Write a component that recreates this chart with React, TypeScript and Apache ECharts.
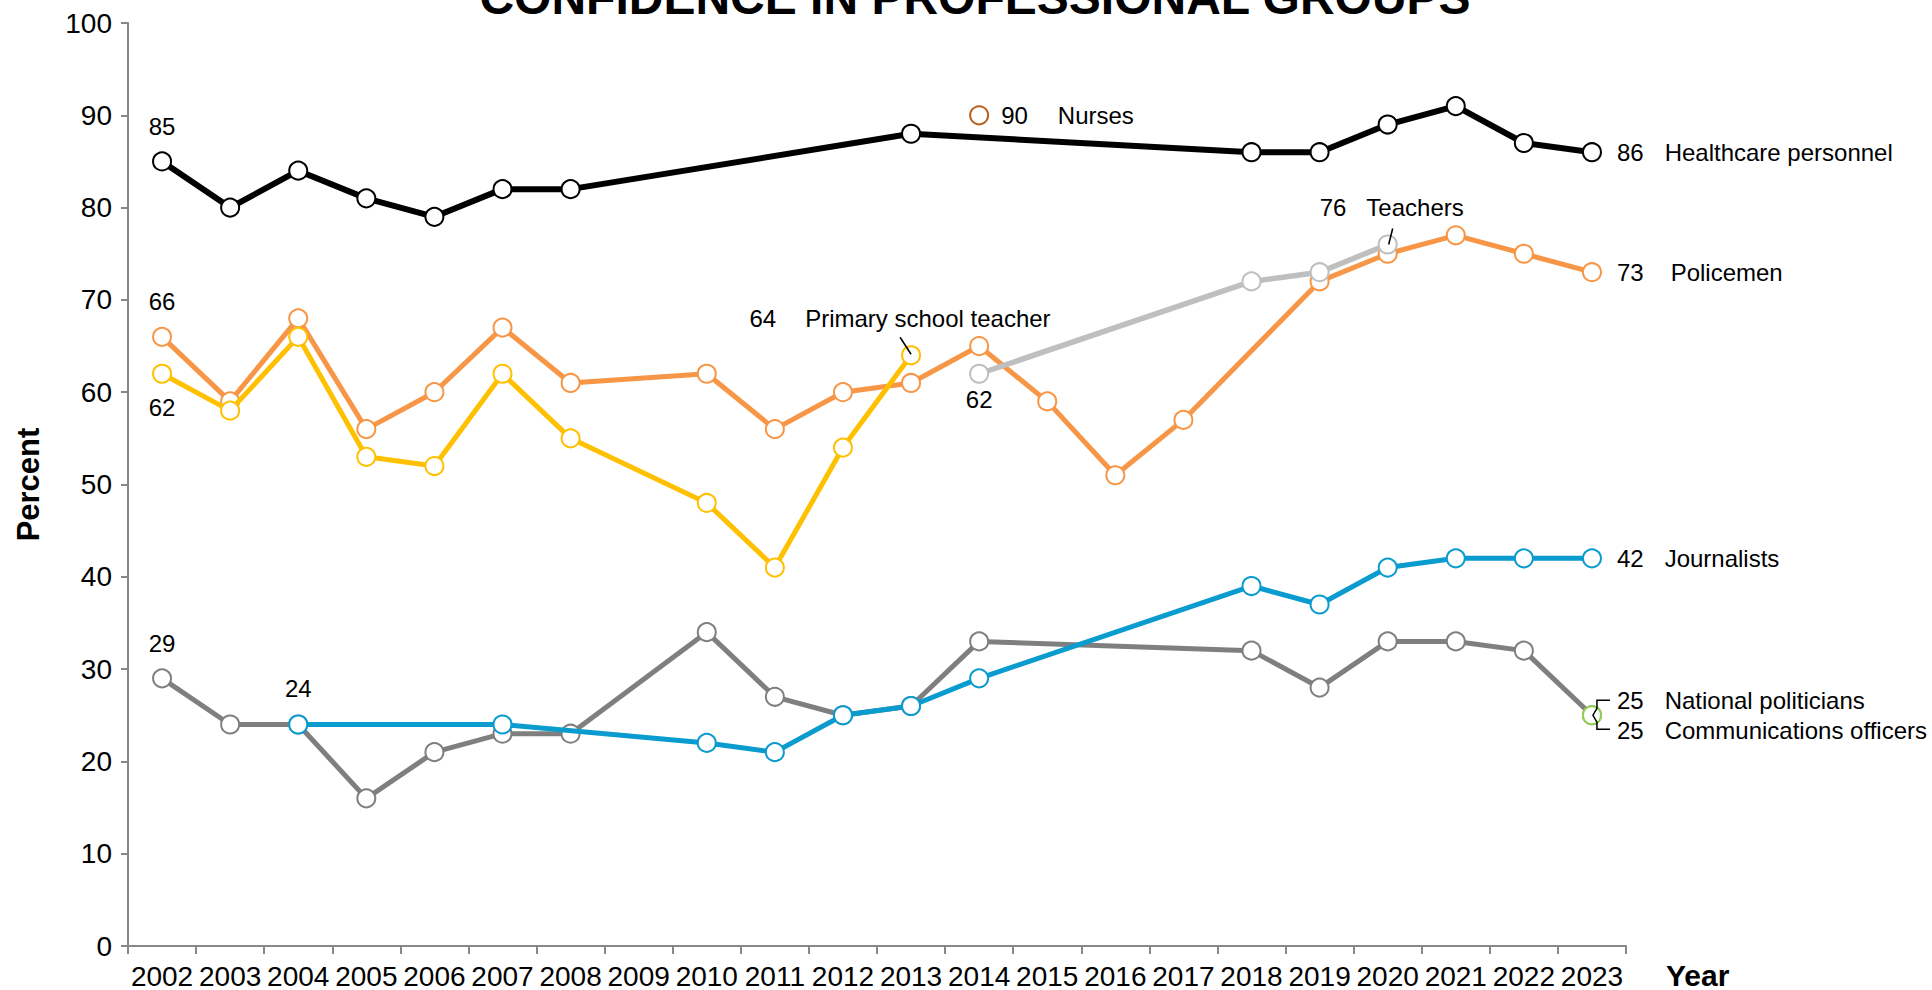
import React, { useEffect, useRef } from "react";
import * as echarts from "echarts";

const years = ["2002","2003","2004","2005","2006","2007","2008","2009","2010","2011","2012","2013","2014","2015","2016","2017","2018","2019","2020","2021","2022","2023"];
const yTicks = [0, 10, 20, 30, 40, 50, 60, 70, 80, 90, 100];

// values aligned with years (null = no survey)
const politicians = [29,24,24,16,21,23,23,null,34,27,25,26,33,null,null,null,32,28,33,33,32,25];
const journalists = [null,null,24,null,null,24,null,null,22,21,25,26,29,null,null,null,39,37,41,42,42,42];
const policemen = [66,59,68,56,60,67,61,null,62,56,60,61,65,59,51,57,null,72,75,77,75,73];
const primaryTeacher = [62,58,66,53,52,62,55,null,48,41,54,64,null,null,null,null,null,null,null,null,null,null];
const teachers = [null,null,null,null,null,null,null,null,null,null,null,null,62,null,null,null,72,73,76,null,null,null];
const healthcare = [85,80,84,81,79,82,82,null,null,null,null,88,null,null,null,null,86,86,89,91,87,86];
const nurses = [null,null,null,null,null,null,null,null,null,null,null,null,90,null,null,null,null,null,null,null,null,null];
const commOfficers = [null,null,null,null,null,null,null,null,null,null,null,null,null,null,null,null,null,null,null,null,null,25];

const FONT = "'Liberation Sans', Arial, sans-serif";

function firstIdx(a: (number | null)[]) { return a.findIndex((v) => v !== null); }
function lastIdx(a: (number | null)[]) { for (let i = a.length - 1; i >= 0; i--) if (a[i] !== null) return i; return -1; }

const rich = (gap: number) => ({
  v: { fontSize: 24, color: "#000", fontFamily: FONT },
  n: { fontSize: 24, color: "#000", fontFamily: FONT, padding: [0, 0, 0, gap] },
});

function build(values: (number | null)[], labels: Record<number, any>) {
  return values.map((v, i) => {
    if (v === null) return null;
    const l = labels[i];
    if (!l) return { value: v };
    return { value: v, label: { show: true, fontSize: 24, color: "#000", fontFamily: FONT, ...l } };
  });
}

function lineSeries(name: string, color: string, width: number, data: any[], z: number) {
  return {
    name,
    type: "line",
    data,
    connectNulls: true,
    symbol: "circle",
    symbolSize: 18,
    z,
    lineStyle: { color, width },
    itemStyle: { color: "#fff", borderColor: color, borderWidth: 2 },
    emphasis: { disabled: true },
  };
}

export default function App() {
  const ref = useRef<HTMLDivElement>(null);
  useEffect(() => {
    if (!ref.current) return;
    const chart = echarts.init(ref.current, null, { renderer: "svg" });
    const topLbl = (d: number) => ({ position: "top", distance: d, formatter: "{c}" });

    const option: any = {
      animation: false,
      textStyle: { fontFamily: FONT },
      grid: { left: 128, right: 306, top: 23, bottom: 44, containLabel: false },
      xAxis: {
        type: "category",
        data: years,
        boundaryGap: true,
        axisLine: { lineStyle: { color: "#888", width: 2 } },
        axisTick: { show: true, length: 8, lineStyle: { color: "#888", width: 2 } },
        axisLabel: { fontSize: 28, color: "#000", margin: 16, fontFamily: FONT, interval: 0 },
        splitLine: { show: false },
      },
      yAxis: {
        type: "value",
        min: yTicks[0],
        max: yTicks[yTicks.length - 1],
        interval: 10,
        name: "Percent",
        nameLocation: "middle",
        nameRotate: 90,
        nameGap: 84,
        nameTextStyle: { fontSize: 31, fontWeight: "bold", color: "#000", fontFamily: FONT },
        axisLine: { show: true, lineStyle: { color: "#888", width: 2 } },
        axisTick: { show: true, length: 7, lineStyle: { color: "#888", width: 2 } },
        axisLabel: { fontSize: 28, color: "#000", margin: 16, fontFamily: FONT },
        splitLine: { show: false },
      },
      series: [
        lineSeries("National politicians", "#7F7F7F", 5, build(politicians, {
          [firstIdx(politicians)]: topLbl(13),
          [lastIdx(politicians)]: { position: "right", distance: 15, offset: [0, -15], formatter: "{v|{c}}{n|National politicians}", rich: rich(21) },
        }), 2),
        lineSeries("Journalists", "#0A9BCF", 5, build(journalists, {
          [firstIdx(journalists)]: topLbl(14),
          [lastIdx(journalists)]: { position: "right", distance: 15, formatter: "{v|{c}}{n|Journalists}", rich: rich(21) },
        }), 3),
        lineSeries("Policemen", "#F79646", 5, build(policemen, {
          [firstIdx(policemen)]: topLbl(13),
          [lastIdx(policemen)]: { position: "right", distance: 15, formatter: "{v|{c}}{n|Policemen}", rich: rich(27) },
        }), 4),
        lineSeries("Primary school teacher", "#FFC000", 5, build(primaryTeacher, {
          [firstIdx(primaryTeacher)]: { position: "bottom", distance: 12, formatter: "{c}" },
          [lastIdx(primaryTeacher)]: { position: "top", distance: 15, offset: [-11, 0], formatter: "{v|{c}}{n|Primary school teacher}", rich: rich(29) },
        }), 5),
        lineSeries("Teachers", "#BFBFBF", 5.5, build(teachers, {
          [firstIdx(teachers)]: { position: "bottom", distance: 4, formatter: "{c}" },
          [lastIdx(teachers)]: { position: "top", distance: 15, offset: [4, 0], formatter: "{v|{c}}{n|Teachers}", rich: rich(20) },
        }), 6),
        lineSeries("Healthcare personnel", "#000000", 6, build(healthcare, {
          [firstIdx(healthcare)]: topLbl(13),
          [lastIdx(healthcare)]: { position: "right", distance: 15, formatter: "{v|{c}}{n|Healthcare personnel}", rich: rich(21) },
        }), 7),
        lineSeries("Nurses", "#B8601E", 2, build(nurses, {
          [firstIdx(nurses)]: { position: "right", distance: 12, formatter: "{v|{c}}{n|Nurses}", rich: rich(30) },
        }), 8),
        lineSeries("Communications officers", "#92D050", 2, build(commOfficers, {
          [lastIdx(commOfficers)]: { position: "right", distance: 15, offset: [0, 15], formatter: "{v|{c}}{n|Communications officers}", rich: rich(21) },
        }), 9),
      ],
    };
    chart.setOption(option);

    // Leader lines computed from the chart's own scales
    const px = (cat: string, v: number) => chart.convertToPixel({ gridIndex: 0 }, [cat, v]) as number[];
    const pi = lastIdx(primaryTeacher);
    const p1 = px(years[pi], primaryTeacher[pi] as number);
    const ti = lastIdx(teachers);
    const p2 = px(years[ti], teachers[ti] as number);
    const ci = lastIdx(commOfficers);
    const p3 = px(years[ci], commOfficers[ci] as number);
    const lineStyle = { stroke: "#000", lineWidth: 1.5, fill: null };

    chart.setOption({
      graphic: [
        {
          type: "text",
          x: 975,
          y: -3,
          style: { text: "CONFIDENCE IN PROFESSIONAL GROUPS", fontSize: 48, fontWeight: "bold", fill: "#000", fontFamily: FONT, align: "center", verticalAlign: "middle" },
        },
        {
          type: "text",
          x: 1666,
          y: 975,
          style: { text: "Year", fontSize: 30, fontWeight: "bold", fill: "#000", fontFamily: FONT, align: "left", verticalAlign: "middle" },
        },
        { type: "line", z: 100, shape: { x1: p1[0] - 11, y1: p1[1] - 18, x2: p1[0], y2: p1[1] - 1 }, style: lineStyle },
        { type: "line", z: 100, shape: { x1: p2[0] + 5, y1: p2[1] - 16, x2: p2[0] + 1, y2: p2[1] }, style: lineStyle },
        {
          type: "polyline",
          z: 100,
          shape: { points: [[p3[0] + 18, p3[1] - 15], [p3[0] + 5, p3[1] - 15], [p3[0] + 5, p3[1] - 7], [p3[0] + 1, p3[1]], [p3[0] + 5, p3[1] + 7], [p3[0] + 5, p3[1] + 14], [p3[0] + 18, p3[1] + 14]] },
          style: lineStyle,
        },
      ],
    });

    return () => chart.dispose();
  }, []);

  return <div ref={ref} style={{ position: "absolute", left: 0, top: 0, width: 1932, height: 990 }} />;
}
